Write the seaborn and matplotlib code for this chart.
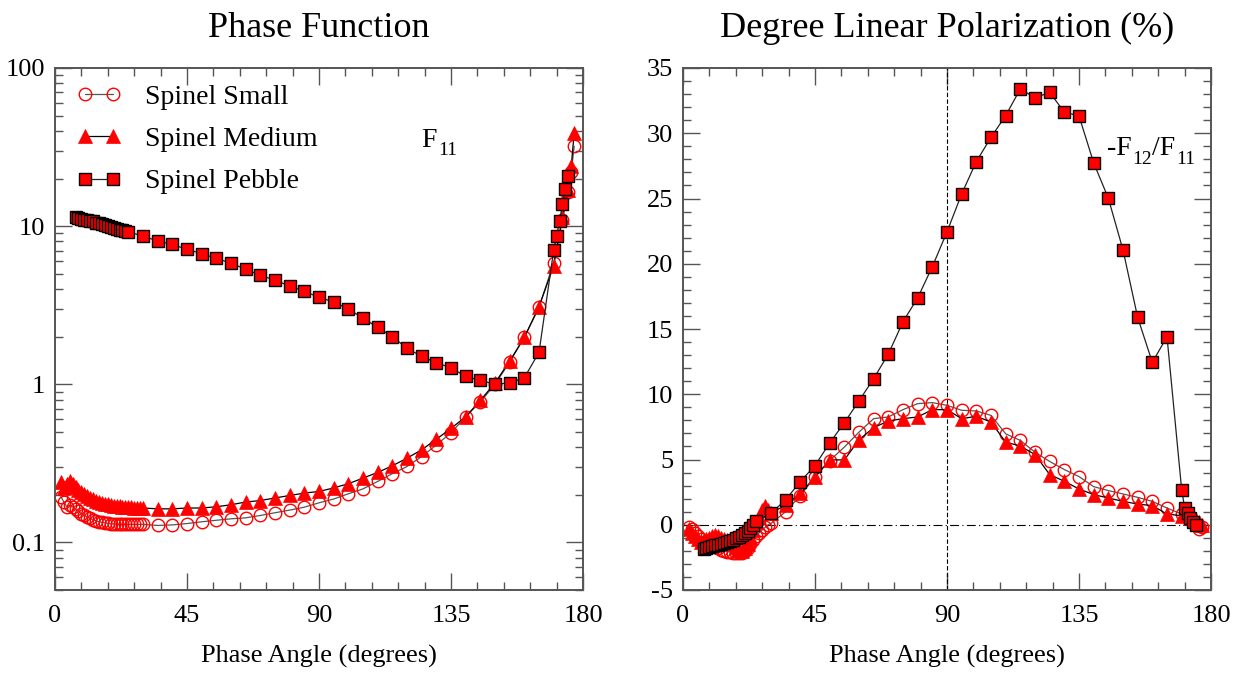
import matplotlib
matplotlib.use("Agg")
import matplotlib.pyplot as plt
import seaborn as sns
from matplotlib.ticker import MultipleLocator, LogLocator, NullFormatter

# --- data (angles in degrees) ---
small_ang = [2, 3, 4, 5, 6, 7, 8, 9, 10, 11, 12, 13, 14, 15, 16, 17, 18, 19, 20,
             21, 22, 23, 24, 25, 26, 27, 28, 29, 30,
             35, 40, 45, 50, 55, 60, 65, 70, 75, 80, 85, 90, 95, 100, 105, 110,
             115, 120, 125, 130, 135, 140, 145, 150, 155, 160, 165, 170,
             173, 175, 176, 177]
pebble_ang = [7, 8, 9, 10, 11, 12, 13, 14, 15, 16, 17, 18, 19, 20, 21, 22, 23, 24, 25,
              30, 35, 40, 45, 50, 55, 60, 65, 70, 75, 80, 85, 90, 95, 100, 105, 110,
              115, 120, 125, 130, 135, 140, 145, 150, 155, 160, 165, 170,
              171, 172, 173, 174, 175]

small_f11 = [0.195, 0.18, 0.168, 0.172, 0.168, 0.162, 0.157, 0.152, 0.148, 0.145,
             0.142, 0.139, 0.137, 0.135, 0.134, 0.133, 0.132, 0.131, 0.131,
             0.130, 0.130, 0.130, 0.130, 0.130, 0.130, 0.130, 0.130, 0.130, 0.130,
             0.128, 0.129, 0.1316, 0.135, 0.138, 0.141, 0.143, 0.148, 0.154, 0.160,
             0.167, 0.178, 0.188, 0.203, 0.218, 0.243, 0.272, 0.302, 0.349, 0.413,
             0.494, 0.623, 0.774, 1.0, 1.38, 1.98, 3.06, 5.88,
             11.0, 16.4, 22.0, 32.0]
medium_f11 = [0.24, 0.22, 0.235, 0.245, 0.235, 0.225, 0.215, 0.208, 0.202, 0.197,
              0.192, 0.188, 0.184, 0.181, 0.178, 0.176, 0.174, 0.172, 0.171,
              0.170, 0.169, 0.168, 0.168, 0.167, 0.167, 0.166, 0.166, 0.166, 0.165,
              0.163, 0.163, 0.165, 0.165, 0.168, 0.173, 0.180, 0.184, 0.191, 0.198,
              0.205, 0.210, 0.221, 0.235, 0.255, 0.277, 0.305, 0.341, 0.385, 0.449,
              0.526, 0.623, 0.79, 1.02, 1.40, 1.98, 3.1, 5.6,
              11.5, 17.0, 24.0, 39.0]
pebble_f11 = [11.4, 11.3, 11.1, 11.0, 10.9, 10.8, 10.7, 10.5, 10.4, 10.3, 10.1, 10.0,
              9.9, 9.8, 9.6, 9.5, 9.4, 9.3, 9.2,
              8.65, 8.05, 7.67, 7.13, 6.70, 6.26, 5.83, 5.34, 4.89, 4.55, 4.18, 3.88,
              3.54, 3.32, 2.99, 2.62, 2.29, 2.00, 1.69, 1.50, 1.37, 1.27, 1.12, 1.06,
              1.00, 1.02, 1.10, 1.59, 7.03,
              8.7, 10.7, 13.8, 17.1, 20.6]

small_pol = [-0.2, -0.3, -0.6, -0.9, -1.1, -1.3, -1.4, -1.5, -1.6, -1.7, -1.8, -1.9,
             -2.0, -2.05, -2.1, -2.15, -2.2, -2.2, -2.15, -2.0, -1.8, -1.5, -1.2,
             -0.9, -0.6, -0.4, -0.2, 0.0, 0.1,
             1.0, 2.23, 3.69, 4.92, 5.95, 7.10, 8.13, 8.26, 8.82, 9.28, 9.36, 9.15,
             8.77, 8.72, 8.38, 6.97, 6.46, 5.56, 4.85, 4.23, 3.69, 2.92, 2.62, 2.36,
             2.10, 1.79, 1.28, 0.82,
             0.5, 0.0, -0.3, -0.2]
medium_pol = [-0.3, -0.6, -0.9, -1.1, -1.3, -1.2, -1.1, -1.0, -0.9, -0.8, -0.9, -1.0,
              -1.1, -1.2, -1.35, -1.5, -1.7, -1.9, -2.0, -1.8, -1.5, -1.0, -0.4,
              0.2, 0.6, 1.1, 1.45, 1.1, 0.9,
              1.5, 2.4, 3.64, 4.97, 4.97, 6.51, 7.44, 7.95, 8.13, 8.26, 8.82, 8.82,
              8.13, 8.31, 7.87, 6.33, 6.03, 5.38, 3.85, 3.33, 2.74, 2.31, 2.05, 1.79,
              1.59, 1.46, 0.82, 0.69,
              0.5, 0.35, 0.2, 0.0]
pebble_pol = [-1.85, -1.80, -1.72, -1.65, -1.58, -1.52, -1.45, -1.38, -1.32, -1.25,
              -1.18, -1.05, -0.95, -0.80, -0.65, -0.45, -0.25, -0.05, 0.25,
              0.87, 1.92, 3.31, 4.54, 6.26, 7.82, 9.49, 11.2, 13.08, 15.56, 17.38,
              19.78, 22.44, 25.35, 27.83, 29.69, 31.35, 33.40, 32.71, 33.14, 31.61,
              31.33, 27.73, 25.02, 21.06, 15.89, 12.44, 14.41, 2.69,
              1.31, 0.92, 0.54, 0.2, 0.0]

labels = ["Spinel Small", "Spinel Medium", "Spinel Pebble"]
x_ticks = [0, 45, 90, 135, 180]
f11_ticks = [0.1, 1, 10, 100]
f11_tick_labels = ["0.1", "1", "10", "100"]
pol_ticks = [-5, 0, 5, 10, 15, 20, 25, 30, 35]

# --- style ---
sns.set_style("ticks")
plt.rcParams["font.family"] = ["Liberation Serif", "DejaVu Serif"]
plt.rcParams["axes.unicode_minus"] = False
plt.rcParams["text.color"] = "black"
plt.rcParams["axes.labelcolor"] = "black"

fig = plt.figure(figsize=(12.34, 6.73), dpi=100)
ax1 = fig.add_axes([55 / 1234, 83 / 673, 528 / 1234, 522 / 673])
ax2 = fig.add_axes([683 / 1234, 83 / 673, 528 / 1234, 522 / 673])

small_kw = dict(color="#555555", lw=0.9, marker="o", markersize=9,
                markerfacecolor="none", markeredgecolor="red", markeredgewidth=1.0)
medium_kw = dict(color="black", lw=0.9, marker="^", markersize=10,
                 markerfacecolor="red", markeredgecolor="red", markeredgewidth=0.5)
pebble_kw = dict(color="#222222", lw=0.9, marker="s", markersize=9,
                 markerfacecolor="red", markeredgecolor="black", markeredgewidth=1.0)

# Phase function panel
sns.lineplot(x=small_ang, y=small_f11, ax=ax1, sort=False, label=labels[0], **small_kw)
sns.lineplot(x=small_ang, y=medium_f11, ax=ax1, sort=False, label=labels[1], **medium_kw)
sns.lineplot(x=pebble_ang, y=pebble_f11, ax=ax1, sort=False, label=labels[2], **pebble_kw)
ax1.set_yscale("log")
ax1.set_ylim(0.05, 100)
ax1.set_yticks(f11_ticks)
ax1.set_yticklabels(f11_tick_labels)
ax1.yaxis.set_minor_locator(LogLocator(base=10, subs=[2, 3, 4, 5, 6, 7, 8, 9]))
ax1.yaxis.set_minor_formatter(NullFormatter())
ax1.set_title("Phase Function", fontsize=26, pad=22)
ax1.text(0.693, 0.862, "F", transform=ax1.transAxes, fontsize=20, va="center")
ax1.text(0.726, 0.842, "11", transform=ax1.transAxes, fontsize=14, va="center")
ax1.legend(loc="upper left", bbox_to_anchor=(0.01, 1.0), frameon=False, fontsize=20,
           numpoints=2, handlelength=1.6, handletextpad=0.85, labelspacing=0.6,
           borderaxespad=0.2)

# Polarization panel
ax2.axvline(90, color="black", lw=0.8, ls=(0, (4, 2)), zorder=1)
ax2.axhline(0, color="black", lw=0.8, ls=(0, (8, 3, 1, 3)), zorder=1)
sns.lineplot(x=small_ang, y=small_pol, ax=ax2, sort=False, **small_kw)
sns.lineplot(x=small_ang, y=medium_pol, ax=ax2, sort=False, **medium_kw)
sns.lineplot(x=pebble_ang, y=pebble_pol, ax=ax2, sort=False, **pebble_kw)
ax2.set_ylim(-5, 35)
ax2.set_yticks(pol_ticks)
ax2.yaxis.set_minor_locator(MultipleLocator(1))
ax2.set_title("Degree Linear Polarization (%)", fontsize=26, pad=22)
ax2.text(0.803, 0.845, "-F", transform=ax2.transAxes, fontsize=20, va="center")
ax2.text(0.851, 0.825, "12", transform=ax2.transAxes, fontsize=14, va="center")
ax2.text(0.889, 0.845, "/F", transform=ax2.transAxes, fontsize=20, va="center")
ax2.text(0.935, 0.825, "11", transform=ax2.transAxes, fontsize=14, va="center")
if ax2.get_legend() is not None:
    ax2.get_legend().remove()

for ax in (ax1, ax2):
    ax.set_xlim(0, 180)
    ax.set_xticks(x_ticks)
    ax.xaxis.set_minor_locator(MultipleLocator(9))
    ax.set_xlabel("Phase Angle (degrees)", fontsize=19, labelpad=13)
    ax.set_ylabel("")
    ax.tick_params(which="both", direction="in", top=True, right=True,
                   color="#555555", width=1.0, labelsize=19, labelcolor="black")
    ax.tick_params(which="major", length=12)
    ax.tick_params(which="minor", length=6)
    ax.tick_params(axis="x", which="major", pad=11)
    ax.tick_params(axis="y", which="major", pad=7)
    for s in ax.spines.values():
        s.set_color("#555555")
        s.set_linewidth(1.4)

fig.savefig("out.png", dpi=100)
